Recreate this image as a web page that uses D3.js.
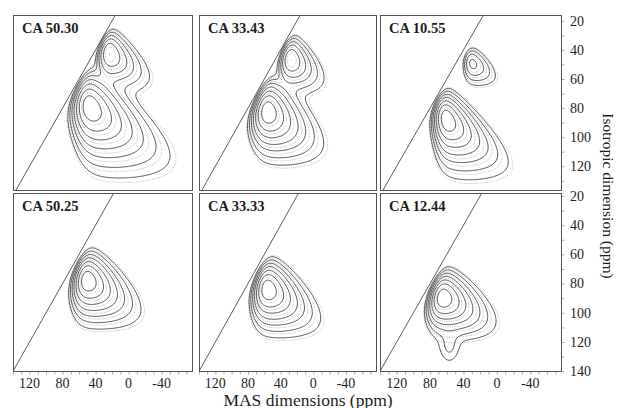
<!DOCTYPE html>
<html>
<head>
<meta charset="utf-8">
<script src="https://cdn.jsdelivr.net/npm/d3@7"></script>
<style>
body { margin: 0; background: #fff; }
text { font-family: "Liberation Serif", "DejaVu Serif", serif; fill: #1e1e1e; }
</style>
</head>
<body>
<script>
var w = 617, h = 408;

// panel titles, in reading order
var panelLabels = ['CA 50.30', 'CA 33.43', 'CA 10.55', 'CA 50.25', 'CA 33.33', 'CA 12.44'];

// peak components:
// [shift on diagonal (ppm), its spread, quadrupolar shift at max, shape k, height, F2 extent, F2 offset]
var peaks1 = [[62, 7, 12, 3.5, 1, 2.8, 0.15], [32, 5, 7, 3.5, 0.55, 2.8, 0.1]];
var peaks2 = [[68, 7, 10.5, 4, 1, 2.7, 0.1], [36, 5, 7.5, 4, 0.55, 2.6, 0.1]];
var peaks3 = [[72, 5, 12, 3.8, 1, 2.4, 0.1], [38, 3, 10, 6, 0.25, 2.4, 0.1]];
var peaks4 = [[62, 6, 13, 5, 1, 2.6, 0.05]];
var peaks5 = [[68, 6, 13, 5, 1, 2.6, 0.05]];
var peaks6 = [[76, 6, 11, 5, 1, 3.0, 0.05]];
// extra features only in the measured spectra: [MAS, iso, sd MAS, sd iso, height]
var extra6 = [[57, 124, 8, 7, 0.07]];

var allPeaks = [peaks1, peaks2, peaks3, peaks4, peaks5, peaks6];
var allExtras = [[], [], [], [], [], extra6];

// contour levels (fraction of maximum)
var levels = [0.035, 0.07, 0.13, 0.22, 0.36, 0.55, 0.8];
var simLevels = [0.026, 0.053, 0.1, 0.17, 0.29, 0.46, 0.7];

var xTicks = [120, 80, 40, 0, -40];
var yTicksTop = [20, 40, 60, 80, 100, 120];
var yTicksBottom = [20, 40, 60, 80, 100, 120, 140];

// layout
var cols = [[13, 193], [199, 377], [380, 562]];
var rows = [[15, 191], [193, 372]];
var xDomain = [140, -78];
var yDomains = [[16, 137], [18, 140.5]];

// grid for spectra, 1 ppm steps
var masHi = 150, masLo = -100, isoLo = 0, isoHi = 160;
var nx = masHi - masLo + 1, ny = isoHi - isoLo + 1;
var pa = 0.5, pb = 1.2;

function blur(v) {
  if (d3.blur2) d3.blur2({data: v, width: nx, height: ny}, 1.5);
  return v;
}

function peakField(c) {
  var cs = c[0], sd = c[1], um = c[2], k = c[3], r = c[5], s = c[6];
  var th = um / (k - 2);
  var v = new Float64Array(nx * ny);
  var uMax = um + 10 * th;
  for (var u = 0.35; u < uMax; u += 0.7) {
    var wu = Math.pow(u, k - 1) * Math.exp(-u / th);
    for (var j = 0; j < ny; j++) {
      var d = isoLo + j - u;
      var z = (d - cs) / sd;
      if (z > 4 || z < -4) continue;
      var gw = wu * Math.exp(-0.5 * z * z);
      var hi = d - s * u, lo = d - r * u, wid = hi - lo;
      var i0 = Math.max(0, Math.ceil(masHi - hi)), i1 = Math.min(nx - 1, Math.floor(masHi - lo));
      if (i1 < i0) {
        var ic = Math.round(masHi - (hi + lo) / 2);
        if (ic >= 0 && ic < nx) v[j * nx + ic] += gw;
        continue;
      }
      var sum = 0, tmp = [];
      for (var i = i0; i <= i1; i++) {
        var t = Math.min(1, Math.max(0, (hi - (masHi - i)) / wid));
        var p = Math.pow(t, pa) * Math.pow(1 - t, pb);
        tmp.push(p);
        sum += p;
      }
      if (!(sum > 0)) continue;
      for (var i = i0; i <= i1; i++) v[j * nx + i] += gw * tmp[i - i0] / sum;
    }
  }
  blur(v);
  var m = d3.max(v);
  for (var q = 0; q < v.length; q++) v[q] = v[q] / m * c[4];
  return v;
}

function gaussField(e) {
  var v = new Float64Array(nx * ny);
  for (var j = 0; j < ny; j++) {
    for (var i = 0; i < nx; i++) {
      var zx = (masHi - i - e[0]) / e[2], zy = (isoLo + j - e[1]) / e[3];
      v[j * nx + i] = e[4] * Math.exp(-0.5 * (zx * zx + zy * zy));
    }
  }
  return v;
}

function addInto(a, b) { for (var q = 0; q < a.length; q++) a[q] += b[q]; }
function scaleTo1(v) { var m = d3.max(v); for (var q = 0; q < v.length; q++) v[q] /= m; return v; }

var svg = d3.select('body').append('svg')
  .attr('width', w)
  .attr('height', h);

var defs = svg.append('defs');

panelLabels.forEach(function(lab, p) {
  var row = Math.floor(p / 3), col = p % 3;
  var xs = d3.scaleLinear().domain(xDomain).range(cols[col]);
  var ys = d3.scaleLinear().domain(yDomains[row]).range(rows[row]);

  var sim = new Float64Array(nx * ny);
  allPeaks[p].forEach(function(c) { addInto(sim, peakField(c)); });
  var meas = Float64Array.from(sim);
  allExtras[p].forEach(function(e) { addInto(meas, gaussField(e)); });
  var top = d3.max(meas);
  for (var q = 0; q < meas.length; q++) meas[q] /= top;
  scaleTo1(sim);

  var proj = d3.geoTransform({point: function(x, y) {
    this.stream.point(xs(masHi - (x - 0.5)), ys(isoLo + (y - 0.5)));
  }});
  var path = d3.geoPath(proj);

  defs.append('clipPath').attr('id', 'clip' + p)
    .append('rect')
    .attr('x', cols[col][0]).attr('y', rows[row][0])
    .attr('width', cols[col][1] - cols[col][0])
    .attr('height', rows[row][1] - rows[row][0]);

  var g = svg.append('g').attr('clip-path', 'url(#clip' + p + ')');

  g.selectAll('path.sim')
    .data(d3.contours().size([nx, ny]).thresholds(simLevels)(sim))
    .enter().append('path')
    .attr('class', 'sim')
    .attr('d', path)
    .attr('fill', 'none')
    .attr('stroke', '#a8a8a8')
    .attr('stroke-width', 0.8)
    .attr('stroke-dasharray', '1,1.3');

  g.selectAll('path.meas')
    .data(d3.contours().size([nx, ny]).thresholds(levels)(meas))
    .enter().append('path')
    .attr('class', 'meas')
    .attr('d', path)
    .attr('fill', 'none')
    .attr('stroke', '#2a2a2a')
    .attr('stroke-width', 0.8);

  // diagonal: MAS shift = isotropic shift
  g.append('path')
    .attr('d', d3.line().x(function(d) { return xs(d); }).y(function(d) { return ys(d); })([160, 0]))
    .attr('stroke', '#333')
    .attr('stroke-width', 0.8)
    .attr('fill', 'none');

  svg.append('rect')
    .attr('x', cols[col][0] + 0.5).attr('y', rows[row][0] + 0.5)
    .attr('width', cols[col][1] - cols[col][0] - 1)
    .attr('height', rows[row][1] - rows[row][0] - 1)
    .attr('fill', 'none')
    .attr('stroke', '#555')
    .attr('stroke-width', 1);

  svg.append('text')
    .attr('x', cols[col][0] + 9)
    .attr('y', rows[row][0] + 18)
    .attr('font-size', 14.5)
    .attr('font-weight', 'bold')
    .text(lab);

  if (row === 1) {
    svg.append('g')
      .attr('transform', 'translate(0,' + rows[row][1] + ')')
      .call(d3.axisBottom(xs).tickValues(d3.range(-70, 141, 10)).tickSize(2.5).tickFormat(''))
      .call(function(a) { a.select('.domain').remove(); a.selectAll('line').attr('stroke', '#777').attr('stroke-width', 0.6); });
    svg.append('g').selectAll('text')
      .data(xTicks)
      .enter().append('text')
      .attr('x', function(d) { return xs(d); })
      .attr('y', 387.5)
      .attr('text-anchor', 'middle')
      .attr('font-size', 14)
      .text(function(d) { return d; });
  }
  if (col === 2) {
    svg.append('g')
      .attr('transform', 'translate(' + cols[col][1] + ',0)')
      .call(d3.axisRight(ys).tickValues(d3.range(20, row ? 141 : 131, 10)).tickSize(2.5).tickFormat(''))
      .call(function(a) { a.select('.domain').remove(); a.selectAll('line').attr('stroke', '#777').attr('stroke-width', 0.6); });
    svg.append('g').selectAll('text')
      .data(row ? yTicksBottom : yTicksTop)
      .enter().append('text')
      .attr('x', 570)
      .attr('y', function(d) { return ys(d); })
      .attr('dy', '0.35em')
      .attr('font-size', 14)
      .text(function(d) { return d; });
  }
});

svg.append('text')
  .attr('x', 308)
  .attr('y', 405.5)
  .attr('text-anchor', 'middle')
  .attr('font-size', 17.5)
  .text('MAS dimensions (ppm)');

svg.append('text')
  .attr('transform', 'translate(603,196) rotate(90)')
  .attr('text-anchor', 'middle')
  .attr('font-size', 15.5)
  .text('Isotropic dimension (ppm)');
</script>
</body>
</html>
